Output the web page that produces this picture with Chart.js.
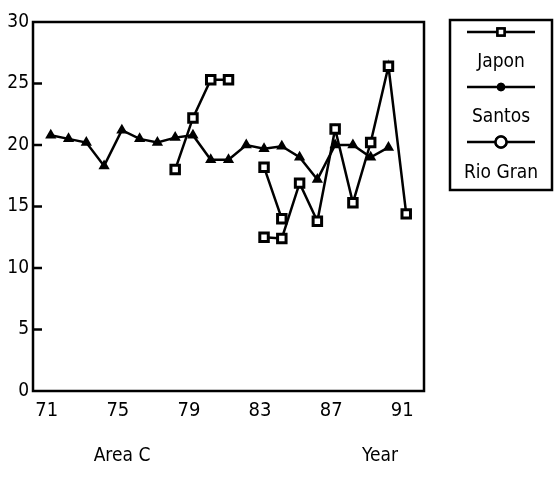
<!DOCTYPE html>
<html>
<head>
<meta charset="utf-8">
<script src="https://cdn.jsdelivr.net/npm/chart.js@4/dist/chart.umd.min.js"></script>
<style>
html,body{margin:0;padding:0;background:#fff;}
canvas{display:block;}
</style>
</head>
<body>
<canvas id="c" width="557" height="484"></canvas>
<script>
// ---- data ----
const years   = [71,72,73,74,75,76,77,78,79,80,81,82,83,84,85,86,87,88,89,90,91];
const santos  = [20.8,20.5,20.2,18.3,21.2,20.5,20.2,20.6,20.8,18.8,18.8,20.0,19.7,19.9,19.0,17.2,20.0,20.0,19.0,19.8,null];
const japon   = [null,null,null,null,null,null,null,18.0,22.2,25.3,25.3,null,18.2,14.0,null,null,null,null,null,null,null];
const rioGran = [null,null,null,null,null,null,null,null,null,null,null,null,12.5,12.4,16.9,13.8,21.3,15.3,20.2,26.4,14.4];
const xTicks  = [71,75,79,83,87,91];
const yTicks  = [0,5,10,15,20,25,30];
const seriesNames = ['Japon','Santos','Rio Gran'];
const xTitle = 'Area C';
const yearTitle = 'Year';

const FONT = "'Liberation Sans Narrow','DejaVu Sans Condensed','Liberation Sans',sans-serif";
const pts = arr => years.map((y,i)=>({x:y, y:arr[i]}));

const framePlugin = {
  id:'frame',
  afterDraw(chart){
    const {ctx, chartArea:a, scales} = chart;
    ctx.save();
    ctx.strokeStyle='#000';
    ctx.lineWidth=2.5;
    ctx.strokeRect(a.left, a.top, a.right-a.left, a.bottom-a.top);
    // inward y tick marks
    yTicks.forEach(v=>{
      if(v===0||v===30) return;
      const y = scales.y.getPixelForValue(v);
      ctx.beginPath(); ctx.moveTo(a.left, y); ctx.lineTo(a.left+9, y); ctx.stroke();
    });
    // axis titles
    ctx.fillStyle='#000';
    ctx.font = "19px " + FONT;
    ctx.textAlign='center'; ctx.textBaseline='middle';
    ctx.fillText(xTitle, 122, 456);
    ctx.fillText(yearTitle, 380, 456);
    // legend
    const lx0=450, ly0=20, lw=102, lh=170;
    ctx.lineWidth=2.5;
    ctx.strokeRect(lx0, ly0, lw, lh);
    const lineYs=[32,87,142], textYs=[62,117,173];
    const styles=[
      {style:'rect', r:5, fill:'#fff'},
      {style:'circle', r:3, fill:'#000'},
      {style:'circle', r:5.5, fill:'#fff'}
    ];
    ctx.font = "19px " + FONT;
    for(let i=0;i<3;i++){
      ctx.lineWidth=2.5;
      ctx.beginPath(); ctx.moveTo(467, lineYs[i]); ctx.lineTo(535, lineYs[i]); ctx.stroke();
      Chart.helpers.drawPoint(ctx, {pointStyle:styles[i].style, radius:styles[i].r, rotation:0, borderWidth:2.5}, 501, lineYs[i]);
      ctx.fillStyle=styles[i].fill;
      ctx.fill();
      ctx.stroke();
      ctx.fillStyle='#000';
      ctx.fillText(seriesNames[i], 501, textYs[i]);
    }
    ctx.restore();
  }
};

new Chart(document.getElementById('c'), {
  type:'line',
  data:{
    datasets:[
      {label:seriesNames[1], data:pts(santos), borderColor:'#000', backgroundColor:'#000', borderWidth:2.5,
       pointStyle:'triangle', pointRadius:4.5, pointBorderWidth:2, pointBackgroundColor:'#000', tension:0, order:3},
      {label:seriesNames[0], data:pts(japon), borderColor:'#000', backgroundColor:'#fff', borderWidth:2.5,
       pointStyle:'rect', pointRadius:6, pointBorderWidth:3, pointBackgroundColor:'#fff', tension:0, order:2},
      {label:seriesNames[2], data:pts(rioGran), borderColor:'#000', backgroundColor:'#fff', borderWidth:2.5,
       pointStyle:'rect', pointRadius:6, pointBorderWidth:3, pointBackgroundColor:'#fff', tension:0, order:1}
    ]
  },
  options:{
    responsive:false, animation:false, devicePixelRatio:1,
    layout:{padding:{top:22, right:133, left:0, bottom:0}},
    plugins:{legend:{display:false}, tooltip:{enabled:false}},
    scales:{
      x:{type:'linear', min:70, max:92,
         afterBuildTicks(s){ s.ticks = xTicks.map(v=>({value:v})); },
         afterFit(s){ s.height = 93; },
         grid:{display:false, drawTicks:false, tickLength:0}, border:{display:false},
         ticks:{color:'#000', font:{family:FONT, size:20}, padding:8, labelOffset:-4, maxRotation:0,
                callback:v=>String(v)}},
      y:{type:'linear', min:0, max:30,
         afterBuildTicks(s){ s.ticks = yTicks.map(v=>({value:v})); },
         afterFit(s){ s.width = 33; },
         grid:{display:false, drawTicks:false, tickLength:0}, border:{display:false},
         ticks:{color:'#000', font:{family:FONT, size:19}, padding:4}}
    }
  },
  plugins:[framePlugin]
});
</script>
</body>
</html>
